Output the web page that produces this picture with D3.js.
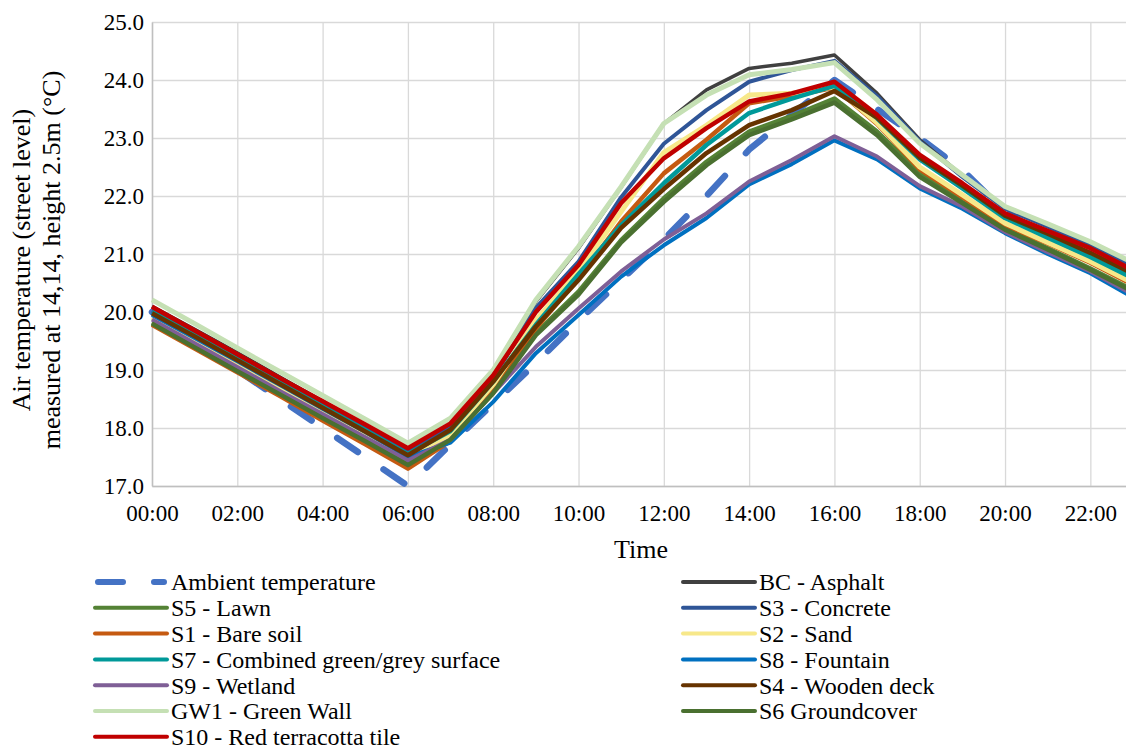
<!DOCTYPE html>
<html lang="en">
<head>
    <meta charset="UTF-8">
    <title>Air temperature</title>
    <script src="https://d3js.org/d3.v7.min.js"></script>
    <style type="text/css">
        body {
            margin: 0;
            background-color: #ffffff;
        }

        .grid line {
            stroke: #d9d9d9;
            stroke-width: 1.3px;
        }

        .axis path, .axis line {
            stroke: #bfbfbf;
            stroke-width: 1.5px;
        }

        .axis text {
            font-family: "Liberation Serif", "Times New Roman", serif;
            font-size: 23px;
            fill: #000;
        }

        .label {
            font-family: "Liberation Serif", "Times New Roman", serif;
            font-size: 26px;
            fill: #000;
            text-anchor: middle;
        }

        .legend text {
            font-family: "Liberation Serif", "Times New Roman", serif;
            font-size: 24px;
            fill: #000;
        }

        .series {
            fill: none;
            stroke-linejoin: round;
        }
    </style>
</head>
<body>
    <script type="text/javascript">
        //DATA
        const hours = ["00:00","01:00","02:00","03:00","04:00","05:00","06:00","07:00","08:00","09:00","10:00","11:00",
                       "12:00","13:00","14:00","15:00","16:00","17:00","18:00","19:00","20:00","21:00","22:00","23:00"];
        const yTicks = [17, 18, 19, 20, 21, 22, 23, 24, 25];

        const ambient = [20.0, 19.5, 19.0, 18.5, 18.0, 17.5, 17.0, 17.72, 18.42, 19.12, 19.85, 20.55,
                         21.25, 22.0, 22.8, 23.4, 24.0, 23.5, 23.0, 22.45, 21.72, 21.3, 20.95, 20.6];
        const asphalt = [20.1, 19.7, 19.3, 18.88, 18.46, 18.05, 17.62, 18.05, 18.9, 20.18, 21.1, 22.15,
                         23.25, 23.83, 24.2, 24.29, 24.43, 23.77, 22.97, 22.35, 21.79, 21.48, 21.16, 20.8];
        const lawn = [19.82, 19.41, 19.0, 18.6, 18.19, 17.78, 17.37, 17.83, 18.65, 19.63, 20.35, 21.24,
                      21.96, 22.59, 23.11, 23.38, 23.68, 23.11, 22.39, 21.9, 21.44, 21.1, 20.75, 20.38];
        const concrete = [20.02, 19.62, 19.22, 18.82, 18.41, 18.0, 17.59, 18.0, 18.85, 20.07, 20.87, 21.98,
                          22.9, 23.48, 23.97, 24.17, 24.33, 23.72, 22.94, 22.33, 21.78, 21.47, 21.15, 20.78];
        const bareSoil = [19.78, 19.37, 18.96, 18.55, 18.13, 17.72, 17.3, 17.78, 18.7, 19.72, 20.58, 21.56,
                          22.39, 22.97, 23.6, 23.72, 23.87, 23.24, 22.46, 21.98, 21.5, 21.18, 20.85, 20.47];
        const sand = [19.9, 19.5, 19.1, 18.7, 18.29, 17.89, 17.48, 17.88, 18.75, 19.86, 20.7, 21.73,
                      22.75, 23.22, 23.74, 23.77, 23.88, 23.26, 22.5, 22.02, 21.53, 21.2, 20.87, 20.5];
        const combined = [20.0, 19.6, 19.19, 18.78, 18.37, 17.96, 17.55, 17.95, 18.8, 19.78, 20.65, 21.5,
                          22.22, 22.88, 23.43, 23.68, 23.9, 23.34, 22.63, 22.13, 21.62, 21.28, 20.95, 20.58];
        const fountain = [19.95, 19.55, 19.15, 18.74, 18.33, 17.93, 17.5, 17.75, 18.45, 19.29, 19.95, 20.61,
                          21.15, 21.62, 22.2, 22.55, 22.96, 22.63, 22.13, 21.78, 21.36, 21.0, 20.67, 20.25];
        const wetland = [19.87, 19.46, 19.05, 18.64, 18.24, 17.84, 17.44, 17.8, 18.6, 19.4, 20.06, 20.7,
                         21.25, 21.7, 22.25, 22.62, 23.03, 22.68, 22.17, 21.82, 21.38, 21.03, 20.7, 20.3];
        const woodenDeck = [19.98, 19.58, 19.17, 18.76, 18.35, 17.94, 17.53, 17.97, 18.8, 19.75, 20.55, 21.45,
                            22.12, 22.74, 23.22, 23.48, 23.81, 23.35, 22.66, 22.18, 21.66, 21.35, 21.02, 20.66];
        const greenWall = [20.21, 19.8, 19.38, 18.97, 18.56, 18.15, 17.74, 18.17, 19.0, 20.21, 21.13, 22.16,
                           23.25, 23.74, 24.09, 24.18, 24.3, 23.66, 22.91, 22.36, 21.82, 21.52, 21.21, 20.85];
        const groundcover = [19.8, 19.39, 18.98, 18.58, 18.17, 17.77, 17.36, 17.8, 18.6, 19.6, 20.3, 21.2,
                             21.9, 22.53, 23.05, 23.32, 23.61, 23.05, 22.33, 21.88, 21.42, 21.08, 20.73, 20.35];
        const terracotta = [20.09, 19.68, 19.27, 18.86, 18.46, 18.06, 17.65, 18.08, 18.91, 20.0, 20.81, 21.88,
                            22.65, 23.17, 23.63, 23.77, 23.97, 23.4, 22.71, 22.22, 21.7, 21.4, 21.1, 20.72];

        // series in legend order (row by row), which is also the drawing order
        const series = [
            {name: "Ambient temperature", values: ambient, color: "#4472c4", width: 6.5, dash: "25,31"},
            {name: "BC - Asphalt", values: asphalt, color: "#404040", width: 3.5},
            {name: "S5 - Lawn", values: lawn, color: "#548235", width: 4.5},
            {name: "S3 - Concrete", values: concrete, color: "#2f5597", width: 4},
            {name: "S1 - Bare soil", values: bareSoil, color: "#c55a11", width: 4.5},
            {name: "S2 - Sand", values: sand, color: "#f7e88a", width: 5},
            {name: "S7 - Combined green/grey surface", values: combined, color: "#009999", width: 4.5},
            {name: "S8 - Fountain", values: fountain, color: "#0070c0", width: 4},
            {name: "S9 - Wetland", values: wetland, color: "#7f5f96", width: 4},
            {name: "S4 - Wooden deck", values: woodenDeck, color: "#663300", width: 4.5},
            {name: "GW1 - Green Wall", values: greenWall, color: "#c5e0b4", width: 5},
            {name: "S6 Groundcover", values: groundcover, color: "#4a7030", width: 4.5},
            {name: "S10 - Red terracotta tile", values: terracotta, color: "#c00000", width: 4.5}
        ];

        //CONSTANTS
        const width = 1126;
        const height = 749;
        const plot = {left: 152, top: 22, bottom: 486, right: 1133};

        //CREATE SVG
        const svg = d3.select("body")
            .append("svg")
            .attr("width", width)
            .attr("height", height);

        //SCALES
        const xScale = d3.scalePoint()
            .domain(hours)
            .range([plot.left, plot.right]);

        const yScale = d3.scaleLinear()
            .domain([17, 25])
            .range([plot.bottom, plot.top]);

        const xTickValues = hours.filter((h, i) => i % 2 === 0);

        //GRIDLINES
        svg.append("g")
            .attr("class", "grid")
            .attr("transform", "translate(0," + plot.bottom + ")")
            .call(d3.axisBottom(xScale).tickValues(xTickValues).tickSize(-(plot.bottom - plot.top)).tickFormat(""))
            .call(g => g.select(".domain").remove());

        svg.append("g")
            .attr("class", "grid")
            .attr("transform", "translate(" + plot.left + ",0)")
            .call(d3.axisLeft(yScale).tickValues(yTicks).tickSize(-(plot.right - plot.left)).tickFormat(""))
            .call(g => g.select(".domain").remove());

        //AXES
        svg.append("g")
            .attr("class", "axis")
            .attr("transform", "translate(0," + plot.bottom + ")")
            .call(d3.axisBottom(xScale).tickValues(xTickValues).tickSize(0).tickPadding(19))
            .call(g => g.selectAll("text").attr("dy", "0.71em"));

        svg.append("g")
            .attr("class", "axis")
            .attr("transform", "translate(" + plot.left + ",0)")
            .call(d3.axisLeft(yScale).tickValues(yTicks).tickSize(0).tickPadding(8).tickFormat(d3.format(".1f")));

        //LINES
        const line = d3.line()
            .x((d, i) => xScale(hours[i]))
            .y(d => yScale(d));

        svg.append("g")
            .selectAll("path")
            .data(series)
            .join("path")
            .attr("class", "series")
            .attr("d", d => line(d.values))
            .attr("stroke", d => d.color)
            .attr("stroke-width", d => d.width)
            .attr("stroke-dasharray", d => d.dash || null)
            .attr("stroke-linecap", d => d.dash ? "round" : "butt");

        //AXIS TITLES
        svg.append("text")
            .attr("class", "label")
            .attr("x", 641)
            .attr("y", 558)
            .text("Time");

        svg.append("text")
            .attr("class", "label")
            .attr("transform", "translate(30,260) rotate(-90)")
            .text("Air temperature (street level)");

        svg.append("text")
            .attr("class", "label")
            .attr("transform", "translate(60,260) rotate(-90)")
            .text("measured at 14,14, height 2.5m (\u00B0C)");

        //LEGEND
        const legend = svg.append("g").attr("class", "legend");

        const item = legend.selectAll("g")
            .data(series)
            .join("g")
            .attr("transform", (d, i) => {
                const col = i % 2;
                const row = Math.floor(i / 2);
                return "translate(" + (col === 0 ? 95 : 683) + "," + (582 + row * 25.8) + ")";
            });

        item.append("line")
            .attr("x1", d => d.dash ? 3 : 0)
            .attr("x2", d => d.dash ? 69 : 72)
            .attr("stroke", d => d.color)
            .attr("stroke-width", d => d.dash ? 6 : 4)
            .attr("stroke-linecap", "round")
            .attr("stroke-dasharray", d => d.dash || null);

        item.append("text")
            .attr("x", 76)
            .attr("dy", "0.35em")
            .text(d => d.name);
    </script>
</body>
</html>
